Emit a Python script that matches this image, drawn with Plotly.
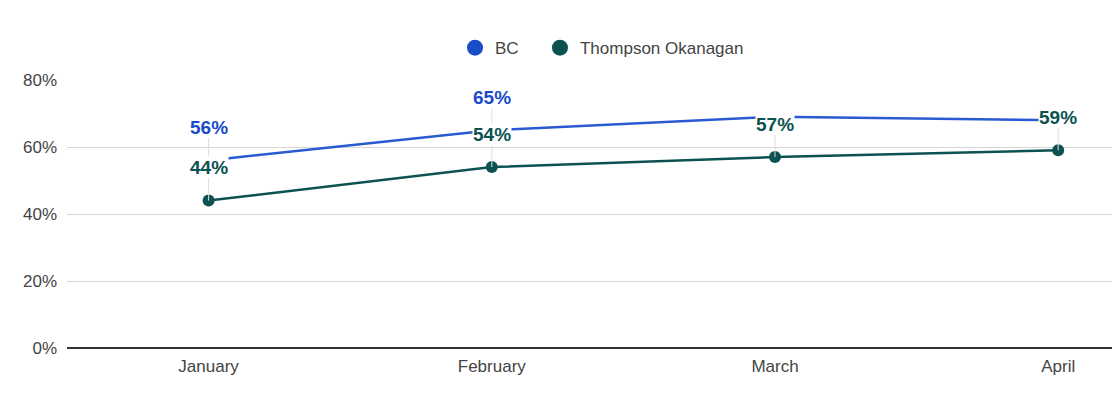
"""Monthly share chart: BC vs Thompson Okanagan."""

import plotly.graph_objects as go

months = ['January', 'February', 'March', 'April']
bc_values = [56, 65, 69, 68]
to_values = [44, 54, 57, 59]
# BC labels for March/April are hidden behind the Thompson Okanagan labels
bc_label_shown = [True, True, False, False]
y_ticks = [0, 20, 40, 60, 80]

BC_COLOR = '#1a4cc9'
TO_COLOR = '#0b5250'
FONT = 'Liberation Sans, Arial, sans-serif'

fig = go.Figure()

fig.add_trace(go.Scatter(
    x=months, y=bc_values, mode='lines', name='BC',
    line=dict(color='#2a5ad2', width=2.5), showlegend=False,
))
fig.add_trace(go.Scatter(
    x=months, y=to_values, mode='lines+markers', name='Thompson Okanagan',
    line=dict(color=TO_COLOR, width=2.5),
    marker=dict(color=TO_COLOR, size=12), showlegend=False,
))

# legend-only entries so the legend shows plain circles (one legend each)
for name, color, leg in [('BC', BC_COLOR, 'legend'),
                         ('Thompson Okanagan', TO_COLOR, 'legend2')]:
    fig.add_trace(go.Scatter(
        x=[None], y=[None], mode='markers', name=name, legend=leg,
        marker=dict(color=color, size=18),
    ))

# data labels with leader lines
for m, v, show in zip(months, bc_values, bc_label_shown):
    if show:
        fig.add_annotation(
            x=m, y=v, text=f'<b>{v}%</b>', showarrow=True, arrowhead=0,
            arrowwidth=1, arrowcolor='#dddddd', ax=0, ay=-33,
            font=dict(color=BC_COLOR, size=19, family=FONT),
            bgcolor='white', borderpad=0,
        )
for m, v in zip(months, to_values):
    fig.add_annotation(
        x=m, y=v, text=f'<b>{v}%</b>', showarrow=True, arrowhead=0,
        arrowwidth=1, arrowcolor='#dddddd', ax=0, ay=-33,
        font=dict(color=TO_COLOR, size=19, family=FONT),
        bgcolor='white', borderpad=0,
    )

legend_style = dict(
    orientation='h', xanchor='left', y=1.119, yanchor='middle',
    font=dict(size=17, color='#444444'), itemwidth=30,
    bgcolor='rgba(0,0,0,0)',
)

fig.update_layout(
    width=1120, height=420,
    margin=dict(l=59, r=16, t=72, b=80, autoexpand=False),
    plot_bgcolor='white', paper_bgcolor='white',
    font=dict(family=FONT, color='#444444', size=17),
    legend=dict(x=0.3713, **legend_style),
    legend2=dict(x=0.4526, **legend_style),
    xaxis=dict(
        range=[-0.5, 3.19], showgrid=False, ticks='', automargin=False,
        tickfont=dict(size=17, color='#444444'), ticklabelstandoff=6,
    ),
    yaxis=dict(
        range=[0, 80], tickvals=y_ticks, automargin=False,
        ticktext=[f'{t}%' for t in y_ticks],
        gridcolor='#d6d6d6', gridwidth=1,
        zeroline=True, zerolinecolor='#333333', zerolinewidth=2,
        tickfont=dict(size=17, color='#444444'),
        ticklabelstandoff=9,
    ),
)

fig.write_html('out.html')
